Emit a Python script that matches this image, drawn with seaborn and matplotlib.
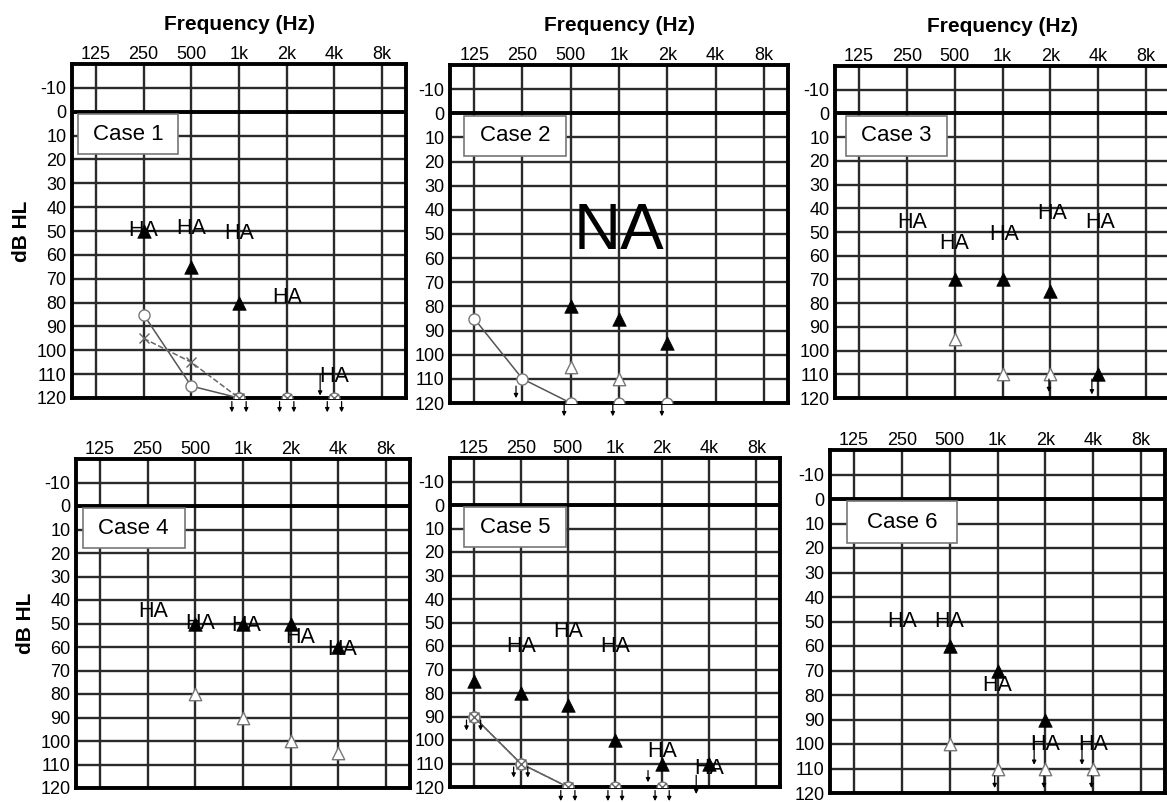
import numpy as np
import pandas as pd
import matplotlib
matplotlib.use("Agg")
import matplotlib.pyplot as plt
from matplotlib.patches import Rectangle
from matplotlib.ticker import NullLocator
import seaborn as sns

# audiogram axes
FREQS = [125, 250, 500, 1000, 2000, 4000, 8000]
FREQ_LABELS = ["125", "250", "500", "1k", "2k", "4k", "8k"]
DB_TICKS = list(range(-10, 130, 10))
CASE_NAMES = ["Case 1", "Case 2", "Case 3", "Case 4", "Case 5", "Case 6"]

# Case 1
c1_fill_f = [250, 500, 1000]
c1_fill_db = [50, 65, 80]
c1_open_f = []
c1_open_db = []
c1_ha_f = [250, 500, 1000, 2000, 4000]
c1_ha_db = [50, 49, 51, 78, 111]
c1_right_f = [250, 500, 1000]
c1_right_db = [85, 115, 120]
c1_left_f = [250, 500, 1000]
c1_left_db = [95, 105, 120]
c1_nr_f = [1000, 2000, 4000]
c1_nr_db = [120, 120, 120]
c1_arrow_f = [3250]
c1_arrow_from = [110]
c1_arrow_to = [119]

# Case 2
c2_fill_f = [500, 1000, 2000]
c2_fill_db = [80, 85, 95]
c2_open_f = [500, 1000]
c2_open_db = [105, 110]
c2_ha_f = []
c2_ha_db = []
c2_right_f = [125, 250, 500]
c2_right_db = [85, 110, 120]
c2_left_f = []
c2_left_db = []
c2_nr_f = [1000, 2000]
c2_nr_db = [120, 120]
c2_arrow_f = [228, 455, 915, 1850]
c2_arrow_from = [113, 120.5, 120.5, 120.5]
c2_arrow_to = [118, 125.5, 125.5, 125.5]
c2_note = "NA"
c2_note_f = 1000
c2_note_db = 49

# Case 3
c3_fill_f = [500, 1000, 2000, 4000]
c3_fill_db = [70, 70, 75, 110]
c3_open_f = [500, 1000, 2000]
c3_open_db = [95, 110, 110]
c3_ha_f = [272, 500, 1020, 2050, 4100]
c3_ha_db = [46, 55, 51, 42, 46]
c3_arrow_f = [1960, 3650]
c3_arrow_from = [112, 112]
c3_arrow_to = [117.5, 118.5]

# Case 4
c4_fill_f = [500, 1000, 2000, 4000]
c4_fill_db = [50, 50, 50, 60]
c4_open_f = [500, 1000, 2000, 4000]
c4_open_db = [80, 90, 100, 105]
c4_ha_f = [272, 537, 1045, 2310, 4240]
c4_ha_db = [45, 50, 51, 56, 61]

# Case 5
c5_fill_f = [125, 250, 500, 1000, 2000, 4000]
c5_fill_db = [75, 80, 85, 100, 110, 110]
c5_ha_f = [250, 500, 1000, 2000, 4000]
c5_ha_db = [60, 54, 60, 105, 112]
c5_right_f = [125, 250, 500]
c5_right_db = [90, 110, 120]
c5_nr_f = [125, 250, 500, 1000, 2000]
c5_nr_db = [90, 110, 120, 120, 120]
c5_arrow_f = [1625, 3300]
c5_arrow_from = [113, 115]
c5_arrow_to = [118, 123]

# Case 6
c6_fill_f = [500, 1000, 2000]
c6_fill_db = [60, 70, 90]
c6_open_f = [500, 1000, 2000, 4000]
c6_open_db = [100, 110, 110, 110]
c6_ha_f = [250, 500, 1000, 2000, 4000]
c6_ha_db = [50, 50, 76, 100, 100]
c6_arrow_f = [960, 1960, 3900, 1700, 3400]
c6_arrow_from = [113, 113, 113, 97, 97]
c6_arrow_to = [118, 118, 118, 108.5, 108.5]

cases = [
    dict(fill=(c1_fill_f, c1_fill_db), open=(c1_open_f, c1_open_db), ha=(c1_ha_f, c1_ha_db),
         right=(c1_right_f, c1_right_db), left=(c1_left_f, c1_left_db),
         nr=(c1_nr_f, c1_nr_db), nr_x=True,
         arrows=(c1_arrow_f, c1_arrow_from, c1_arrow_to)),
    dict(fill=(c2_fill_f, c2_fill_db), open=(c2_open_f, c2_open_db), ha=(c2_ha_f, c2_ha_db),
         right=(c2_right_f, c2_right_db), left=(c2_left_f, c2_left_db),
         nr=(c2_nr_f, c2_nr_db), nr_x=False,
         arrows=(c2_arrow_f, c2_arrow_from, c2_arrow_to),
         note=(c2_note, c2_note_f, c2_note_db)),
    dict(fill=(c3_fill_f, c3_fill_db), open=(c3_open_f, c3_open_db), ha=(c3_ha_f, c3_ha_db),
         arrows=(c3_arrow_f, c3_arrow_from, c3_arrow_to)),
    dict(fill=(c4_fill_f, c4_fill_db), open=(c4_open_f, c4_open_db), ha=(c4_ha_f, c4_ha_db)),
    dict(fill=(c5_fill_f, c5_fill_db), ha=(c5_ha_f, c5_ha_db),
         right=(c5_right_f, c5_right_db), left=(c5_right_f, c5_right_db),
         nr=(c5_nr_f, c5_nr_db), nr_x=True,
         arrows=(c5_arrow_f, c5_arrow_from, c5_arrow_to)),
    dict(fill=(c6_fill_f, c6_fill_db), open=(c6_open_f, c6_open_db), ha=(c6_ha_f, c6_ha_db),
         arrows=(c6_arrow_f, c6_arrow_from, c6_arrow_to)),
]

# panel frames in figure pixels: left, top, right, bottom
FRAMES = [(72, 64, 406, 398), (450, 65, 788, 403), (835, 66, 1170, 398),
          (76, 459, 410, 788), (450, 458, 780, 787), (830, 450, 1165, 793)]
BOX_X = [(0.018, 0.30), (0.042, 0.30), (0.033, 0.30), (0.02, 0.305), (0.042, 0.31), (0.05, 0.33)]

W, H = 1167, 802
GRAY = "#777777"


def draw_arrow(ax, f, db0, db1):
    ax.annotate("", xy=(f, db1), xytext=(f, db0), annotation_clip=False,
                arrowprops=dict(arrowstyle="-|>", color="black", lw=0.9,
                                mutation_scale=6, shrinkA=0, shrinkB=0),
                zorder=6)


def set_labels(ax, i):
    if i < 3:
        ax.xaxis.set_label_position("top")
        ax.set_xlabel("Frequency (Hz)", fontsize=15, fontweight="bold", labelpad=11)
    else:
        ax.set_xlabel("")
    if i % 3 == 0:
        ax.set_ylabel("dB HL", fontsize=15, fontweight="bold", labelpad=4)
    else:
        ax.set_ylabel("")


def draw_case(fig, i, case):
    l, t, r, b = FRAMES[i]
    ax = fig.add_axes([l / W, 1 - b / H, (r - l) / W, (b - t) / H])
    ax.set_xscale("log", base=2)
    ax.set_xlim(FREQS[0] / np.sqrt(2), FREQS[-1] * np.sqrt(2))
    ax.set_ylim(120, -20)
    ax.set_xticks(FREQS, FREQ_LABELS)
    ax.xaxis.set_minor_locator(NullLocator())
    ax.set_yticks(DB_TICKS)
    ax.xaxis.tick_top()
    ax.tick_params(axis="x", length=0, pad=1, labelsize=13, labelcolor="black")
    ax.tick_params(axis="y", length=0, pad=4, labelsize=13, labelcolor="black")
    ax.grid(True, color="#2a2a2a", lw=1.7)
    ax.set_axisbelow(True)
    ax.axhline(0, color="black", lw=2.8, zorder=1)
    for s in ax.spines.values():
        s.set_visible(True)
        s.set_color("black")
        s.set_linewidth(2.8)

    # case label box
    x0, bw = BOX_X[i]
    ax.add_patch(Rectangle((x0, 0.73), bw, 0.12, transform=ax.transAxes,
                           facecolor="white", edgecolor=GRAY, lw=1.2, zorder=3))
    ax.text(x0 + bw / 2, 0.79, CASE_NAMES[i], transform=ax.transAxes,
            ha="center", va="center", fontsize=16, zorder=4)

    if "right" in case and case["right"][0]:
        df = pd.DataFrame({"f": case["right"][0], "db": case["right"][1]})
        sns.lineplot(data=df, x="f", y="db", ax=ax, sort=False, estimator=None,
                     color="#555555", lw=1.1, marker="o", markersize=8,
                     markerfacecolor="white", markeredgecolor=GRAY,
                     markeredgewidth=1, zorder=4, legend=False)
    if "left" in case and case["left"][0]:
        df = pd.DataFrame({"f": case["left"][0], "db": case["left"][1]})
        sns.lineplot(data=df, x="f", y="db", ax=ax, sort=False, estimator=None,
                     color="#666666", lw=1.1, linestyle="--", marker="x",
                     markersize=7, markeredgecolor="#666666",
                     markeredgewidth=1, zorder=4, legend=False)

    if "nr" in case:
        nf, nd = case["nr"]
        sns.scatterplot(x=nf, y=nd, ax=ax, marker="o", s=60, color="white",
                        edgecolor=GRAY, linewidth=1, zorder=5, legend=False)
        if case["nr_x"]:
            sns.scatterplot(x=nf, y=nd, ax=ax, marker="x", s=40, color="#666666",
                            linewidth=1, zorder=5, legend=False)
            for f, d in zip(nf, nd):
                for sgn in (-1, 1):
                    draw_arrow(ax, f * 2 ** (sgn * 0.15), d + 1.5, d + 6)

    if case.get("open") and case["open"][0]:
        sns.scatterplot(x=case["open"][0], y=case["open"][1], ax=ax, marker="^",
                        s=80, color="white", edgecolor=GRAY, linewidth=1,
                        zorder=5, legend=False)
    if case["fill"][0]:
        sns.scatterplot(x=case["fill"][0], y=case["fill"][1], ax=ax, marker="^",
                        s=95, color="black", edgecolor="black", linewidth=0.5,
                        zorder=6, legend=False)

    for f, d in zip(*case["ha"]):
        ax.text(f, d, "HA", ha="center", va="center", fontsize=15.5, zorder=7)

    if "arrows" in case:
        for f, d0, d1 in zip(*case["arrows"]):
            draw_arrow(ax, f, d0, d1)

    if "note" in case:
        txt, f, d = case["note"]
        ax.text(f, d, txt, ha="center", va="center", fontsize=47, zorder=7)

    # seaborn resets the axis labels while plotting, so set them last
    set_labels(ax, i)
    return ax


sns.set_theme(style="white")
plt.rcParams["font.family"] = ["Liberation Sans", "DejaVu Sans"]
plt.rcParams["axes.unicode_minus"] = False
plt.rcParams["text.color"] = "black"
plt.rcParams["axes.labelcolor"] = "black"

fig = plt.figure(figsize=(W / 100, H / 100), dpi=100)
for i, case in enumerate(cases):
    draw_case(fig, i, case)

fig.savefig("out.png", dpi=100, facecolor="white")
